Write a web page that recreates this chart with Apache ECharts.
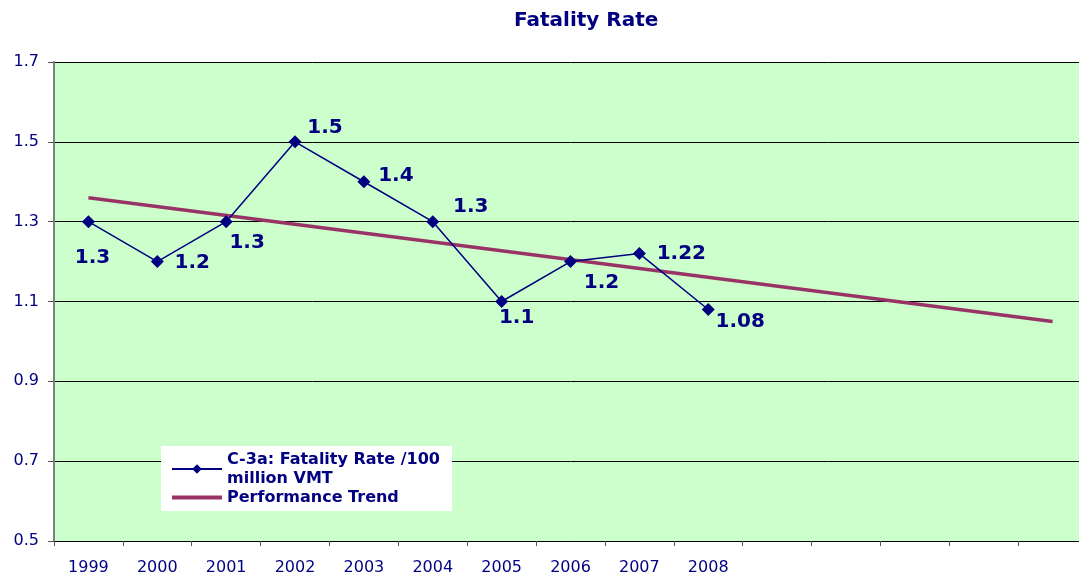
<!DOCTYPE html>
<html>
<head>
<meta charset="utf-8">
<script src="https://cdn.jsdelivr.net/npm/echarts@6/dist/echarts.min.js"></script>
<style>
  html, body { margin: 0; padding: 0; background: #fff; overflow: hidden; }
  /* plot area runs past the right edge of the picture, so the canvas is a bit wider than the window */
  #chart-root { width: 1090px; height: 579px; }
</style>
</head>
<body>
<div id="chart-root"></div>
<script>
// chart data
const years = ["1999", "2000", "2001", "2002", "2003", "2004", "2005", "2006", "2007", "2008", "", "", "", "", ""];
const fatalityRate = [1.3, 1.2, 1.3, 1.5, 1.4, 1.3, 1.1, 1.2, 1.22, 1.08];
const trendLine = [1.36, null, null, null, null, null, null, null, null, null, null, null, null, null, 1.05];
const yTicks = { min: 0.5, max: 1.7, step: 0.2 };

// where each data label sits relative to its marker
const labelShift = [[4, 36], [35, 1], [21, 21], [30, -14], [32, -6], [38, -15], [15, 16], [31, 21], [42, 0], [32, 12]];

const navy = "#000080";
const font = "DejaVu Sans, Verdana, sans-serif";
const chart = echarts.init(document.getElementById("chart-root"));

let option = {
  animation: false,
  backgroundColor: "#ffffff",
  textStyle: { fontFamily: font },
  title: {
    text: "Fatality Rate",
    left: 509,
    top: 6,
    textStyle: { color: navy, fontSize: 20, fontWeight: "bold", fontFamily: font }
  },
  grid: {
    left: 54,
    top: 62,
    width: 1033,
    height: 479,
    show: true,
    backgroundColor: "#ccffcc",
    borderWidth: 0
  },
  legend: {
    orient: "vertical",
    left: 161,
    top: 446,
    width: 290,
    backgroundColor: "#ffffff",
    padding: [4, 12, 4, 9],
    itemWidth: 50,
    itemHeight: 12,
    itemGap: 0,
    textStyle: { color: navy, fontSize: 16, fontWeight: "bold", lineHeight: 19, fontFamily: font },
    data: [
      { name: "C-3a: Fatality Rate /100\nmillion VMT" },
      { name: "Performance Trend", itemStyle: { opacity: 0 }, lineStyle: { width: 4 } }
    ]
  },
  xAxis: {
    type: "category",
    data: years,
    boundaryGap: true,
    axisLine: { lineStyle: { color: "#000000", width: 1 } },
    axisTick: { show: true, interval: 0, length: 5, lineStyle: { color: "#555555" } },
    axisLabel: { interval: 0, color: navy, fontSize: 16, margin: 19, fontFamily: font },
    splitLine: { show: false }
  },
  yAxis: {
    type: "value",
    min: yTicks.min,
    max: yTicks.max,
    interval: yTicks.step,
    axisLine: { show: true, lineStyle: { color: "#808080", width: 2 } },
    axisTick: { show: true, length: 6, lineStyle: { color: "#555555" } },
    axisLabel: {
      color: navy,
      fontSize: 16,
      margin: 15,
      fontFamily: font,
      formatter: v => v.toFixed(1)
    },
    splitLine: { show: true, lineStyle: { color: "#000000", width: 1 } }
  },
  series: [
    {
      name: "C-3a: Fatality Rate /100\nmillion VMT",
      type: "line",
      data: fatalityRate.map((v, i) => ({
        value: v,
        label: { offset: labelShift[i] }
      })),
      symbol: "diamond",
      symbolSize: 13,
      lineStyle: { color: navy, width: 1.5 },
      itemStyle: { color: navy },
      label: {
        show: true,
        position: "inside",
        color: navy,
        fontSize: 20,
        fontWeight: "bold",
        fontFamily: font,
        formatter: p => String(p.value)
      },
      z: 3
    },
    {
      name: "Performance Trend",
      type: "line",
      data: trendLine,
      connectNulls: true,
      showSymbol: false,
      symbol: "none",
      lineStyle: { color: "#993366", width: 3.5 },
      itemStyle: { color: "#993366" },
      z: 2
    }
  ]
};

chart.setOption(option);
</script>
</body>
</html>
